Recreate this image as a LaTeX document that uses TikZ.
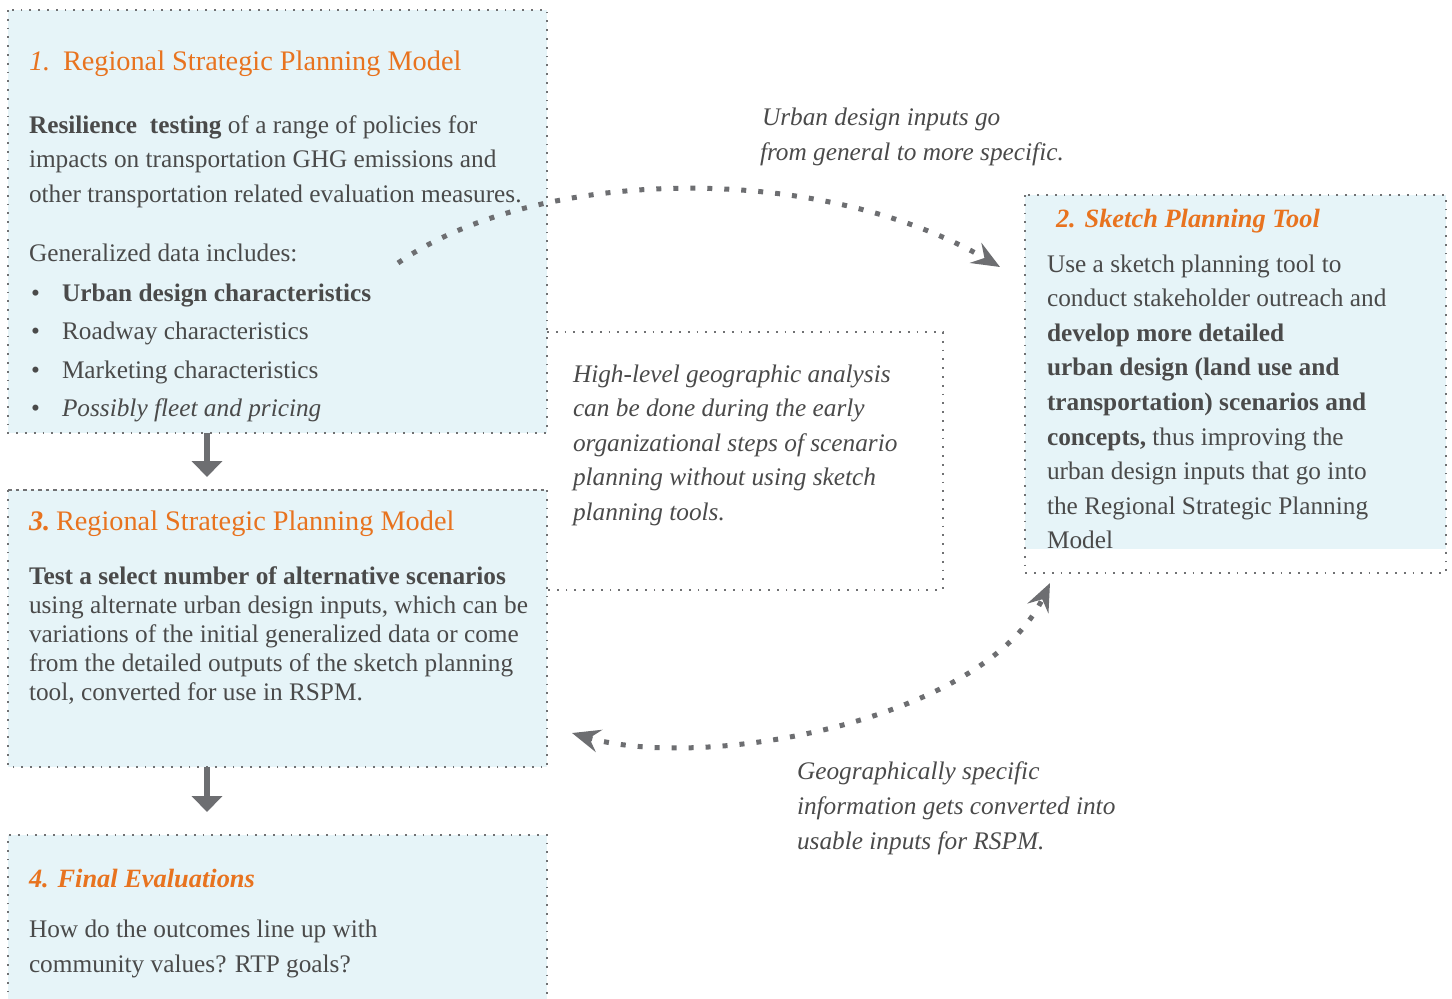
\documentclass[tikz,border=0pt]{standalone}
\usepackage{fontspec}
\setmainfont{Liberation Serif}
\usetikzlibrary{arrows.meta}
\definecolor{fillblue}{HTML}{E6F4F8}
\definecolor{orng}{HTML}{E8731F}
\definecolor{txt}{HTML}{4A4A4A}
\definecolor{arw}{HTML}{6D6E71}
\definecolor{brd}{HTML}{707173}
\tikzset{
 boxfill/.style={fill=fillblue, draw=none, inner sep=0, outer sep=0, anchor=north west},
 boxpl/.style={draw=none, inner sep=0, outer sep=0, anchor=north west},
 dotb/.style={draw=brd, line width=1.8bp, dash pattern=on 1.8bp off 7bp},
 dashb/.style={draw=brd, line width=1.8bp, dash pattern=on 3.5bp off 4bp},
 body/.style={anchor=base west, inner sep=0, outer sep=0, text=txt, font=\fontsize{25.4}{30}\selectfont},
 ital/.style={body, font=\fontsize{25.4}{30}\selectfont\itshape},
 ttl/.style={anchor=base west, inner sep=0, outer sep=0, text=orng, font=\fontsize{28.4}{30}\selectfont},
 ttlbi/.style={anchor=base west, inner sep=0, outer sep=0, text=orng, font=\fontsize{26.5}{30}\selectfont\bfseries\itshape},
 curvy/.style={draw=arw, line width=5bp, dash pattern=on 5bp off 12bp},
 bigdown/.style={draw=arw, line width=6bp, -{Triangle[length=16bp,width=30bp]}},
 tipS/.tip={Stealth[length=28bp,width=23bp,inset=10bp]},
}
\begin{document}
\begin{tikzpicture}[x=1bp,y=-1bp]
\useasboundingbox (0,0) rectangle (1452,998);
% boxes
\node[boxfill, minimum width=539bp, minimum height=423bp] (b1) at (8,10) {};
\draw[dotb] (b1.north west) rectangle (b1.south east);
\node[boxfill, minimum width=539bp, minimum height=277bp] (b3) at (8,490) {};
\draw[dashb] (b3.north west) -- (b3.north east);
\draw[dotb] (b3.north east) -- (b3.south east) -- (b3.south west) -- (b3.north west);
\node[boxfill, minimum width=539bp, minimum height=175bp] (b4) at (8,835) {};
\draw[dotb] (b4.south west) -- (b4.north west) -- (b4.north east) -- (b4.south east);
\node[boxfill, minimum width=421bp, minimum height=354bp] (b2f) at (1025,195) {};
\node[boxpl, minimum width=421bp, minimum height=378bp] (b2) at (1025,195) {};
\draw[dotb] (b2.north west) rectangle (b2.south east);
\node[boxpl, minimum width=396bp, minimum height=258bp] (m) at (547,332) {};
\draw[dotb] (m.north west) -- (m.north east) -- (m.south east) -- (m.south west);
% down arrows
\coordinate (ax) at (207,0);
\draw[bigdown, shorten >=13bp] (b1.south -| ax) -- (b3.north -| ax);
\draw[bigdown, shorten >=23bp] (b3.south -| ax) -- (b4.north -| ax);
% curved arrows
\coordinate (c1s) at (398,263);
\coordinate (c1e) at (1000,267);
\draw[curvy, -tipS] (c1s) .. controls (535,168) and (815,160) .. (c1e);
\coordinate (c2a) at (572,733);
\coordinate (c2b) at (1050,583);
\draw[curvy, tipS-tipS] (c2a) .. controls (705,772) and (985,720) .. (c2b);
% box 1 text
\node[ttl, font=\fontsize{28.4}{30}\selectfont\itshape] (t1n) at (29,70) {1.};
\node[ttl] (t1) at (63,70) {Regional Strategic Planning Model};
\node[body] (p1a) at (29,133) {\textbf{Resilience\ \ testing} of a range of policies for};
\node[body] (p1b) at (29,167) {impacts on transportation GHG emissions and};
\node[body] (p1c) at (29,202) {other transportation related evaluation measures.};
\node[body] (p1d) at (29,261) {Generalized data includes:};
\node[body] (u1) at (31,301) {•};
\node[body] (u1t) at (62,301) {\textbf{Urban design characteristics}};
\node[body] (u2) at (31,339) {•};
\node[body] (u2t) at (62,339) {Roadway characteristics};
\node[body] (u3) at (31,378) {•};
\node[body] (u3t) at (62,378) {Marketing characteristics};
\node[body] (u4) at (31,416) {•};
\node[ital] (u4t) at (62,416) {Possibly fleet and pricing};
% box 2 text
\node[ttlbi] (t2) at (1056,227) {2. Sketch Planning Tool};
\node[body] (p2a) at (1047,272) {Use a sketch planning tool to};
\node[body] (p2b) at (1047,306.6) {conduct stakeholder outreach and};
\node[body] (p2c) at (1047,341.2) {\textbf{develop more detailed}};
\node[body] (p2d) at (1047,375.8) {\textbf{urban design (land use and}};
\node[body] (p2e) at (1047,410.4) {\textbf{transportation) scenarios and}};
\node[body] (p2f) at (1047,445) {\textbf{concepts,} thus improving the};
\node[body] (p2g) at (1047,479.6) {urban design inputs that go into};
\node[body] (p2h) at (1047,514.2) {the Regional Strategic Planning};
\node[body] (p2i) at (1047,548.8) {Model};
% middle text
\node[ital] (ma) at (573,382) {High-level geographic analysis};
\node[ital] (mb) at (573,416.6) {can be done during the early};
\node[ital] (mc) at (573,451.2) {organizational steps of scenario};
\node[ital] (md) at (573,485.8) {planning without using sketch};
\node[ital] (me) at (573,520.4) {planning tools.};
% box 3 text
\node[ttl, font=\fontsize{28.4}{30}\selectfont\bfseries\itshape] (t3n) at (29,530) {3.};
\node[ttl] (t3) at (56,530) {Regional Strategic Planning Model};
\node[body] (p3a) at (29,584) {\textbf{Test a select number of alternative scenarios}};
\node[body] (p3b) at (29,613) {using alternate urban design inputs, which can be};
\node[body] (p3c) at (29,642) {variations of the initial generalized data or come};
\node[body] (p3d) at (29,671) {from the detailed outputs of the sketch planning};
\node[body] (p3e) at (29,700) {tool, converted for use in RSPM.};
% box 4 text
\node[ttlbi] (t4) at (29,887) {4. Final Evaluations};
\node[body] (p4a) at (29,937) {How do the outcomes line up with};
\node[body] (p4b) at (29,972) {community values? RTP goals?};
% labels
\node[ital] (la) at (762,125) {Urban design inputs go};
\node[ital] (lb) at (760,160) {from general to more specific.};
\node[ital] (lc) at (797,779) {Geographically specific};
\node[ital] (ld) at (797,814) {information gets converted into};
\node[ital] (le) at (797,849) {usable inputs for RSPM.};
\end{tikzpicture}
\end{document}
